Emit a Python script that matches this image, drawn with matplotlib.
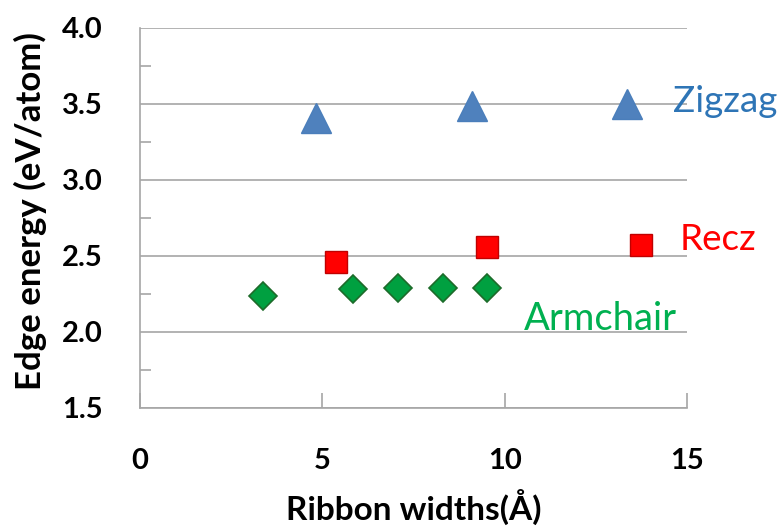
import matplotlib
matplotlib.use("Agg")
import matplotlib.pyplot as plt
from matplotlib.ticker import MultipleLocator

# Edge energies of nanoribbons vs. ribbon width
zigzag_w = [4.83, 9.10, 13.35]
zigzag_e = [3.41, 3.49, 3.50]

recz_w = [5.37, 9.51, 13.74]
recz_e = [2.46, 2.56, 2.57]

armchair_w = [3.37, 5.84, 7.07, 8.31, 9.51]
armchair_e = [2.24, 2.28, 2.29, 2.29, 2.29]

x_ticks = [0, 5, 10, 15]
y_ticks = [1.5, 2.0, 2.5, 3.0, 3.5, 4.0]

plt.rcParams['font.family'] = ['Lato', 'DejaVu Sans']

fig = plt.figure(figsize=(7.79, 5.27), dpi=100)
ax = fig.add_axes([140 / 779, 1 - 408 / 527, 547 / 779, 380 / 527])

grid_c = '#A6A6A6'
ax.set_xlim(0, 15)
ax.set_ylim(1.5, 4.0)
ax.set_xticks(x_ticks)
ax.set_yticks(y_ticks)
ax.yaxis.set_minor_locator(MultipleLocator(0.25))
ax.grid(axis='y', which='major', color=grid_c, linewidth=1.2)
ax.set_axisbelow(True)

for s in ['top', 'right']:
    ax.spines[s].set_visible(False)
for s in ['left', 'bottom']:
    ax.spines[s].set_color(grid_c)
    ax.spines[s].set_linewidth(1.2)

ax.tick_params(axis='x', which='major', direction='in', length=11, color=grid_c,
               width=1.2, pad=29, labelsize=21)
ax.tick_params(axis='y', which='major', length=0, pad=27, labelsize=21)
ax.tick_params(axis='y', which='minor', direction='in', length=8, color=grid_c, width=1.2)

ax.set_xticklabels([str(v) for v in x_ticks], fontweight='bold')
ax.set_yticklabels([f"{v:.1f}" for v in y_ticks], fontweight='bold')

ax.plot(zigzag_w, zigzag_e, linestyle='none', marker='^', markersize=22,
        markerfacecolor='#4F81BD', markeredgecolor='#4A7EBB', markeredgewidth=1, clip_on=False)
ax.plot(recz_w, recz_e, linestyle='none', marker='s', markersize=16,
        markerfacecolor='#FF0000', markeredgecolor='#C00000', markeredgewidth=1, clip_on=False)
ax.plot(armchair_w, armchair_e, linestyle='none', marker='D', markersize=14,
        markerfacecolor='#00A040', markeredgecolor='#1D6B2A', markeredgewidth=1.2, clip_on=False)

ax.text(14.61, 3.447, 'Zigzag', color='#2E75B6', fontsize=26.5, va='baseline', ha='left')
ax.text(14.81, 2.539, 'Recz', color='#FF0000', fontsize=26.5, va='baseline', ha='left')
ax.text(10.53, 2.013, 'Armchair', color='#00B050', fontsize=27.5, va='baseline', ha='left')

ax.set_xlabel('Ribbon widths(Å)', fontsize=24, fontweight='bold')
ax.set_ylabel('Edge energy (eV/atom)', fontsize=25, fontweight='bold')
ax.xaxis.set_label_coords(0.5, -(507 - 408) / 380, transform=ax.transAxes)
ax.xaxis.label.set_va('center')
ax.yaxis.set_label_coords(-(140 - 30) / 547, (408 - 211) / 380, transform=ax.transAxes)
ax.yaxis.label.set_va('center')

fig.savefig('out.png', dpi=100)
